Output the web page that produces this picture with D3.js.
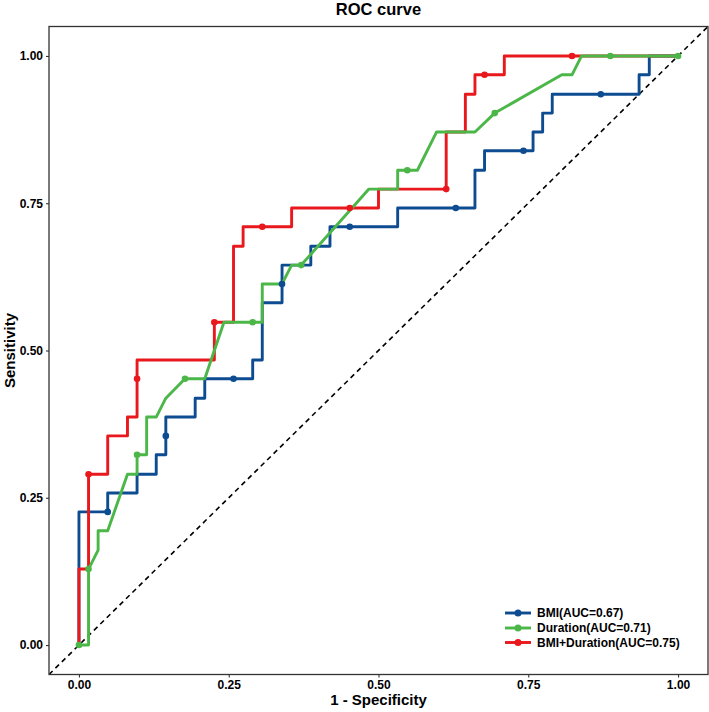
<!DOCTYPE html>
<html>
<head>
<meta charset="utf-8">
<script src="https://cdn.jsdelivr.net/npm/d3@7"></script>
<style>
  html, body { margin: 0; padding: 0; background: #fff; }
  text { font-family: "Liberation Sans", Arial, Helvetica, sans-serif; font-weight: bold; }
</style>
</head>
<body>
<svg id="chart" width="709" height="712"></svg>
<script>
// ---- data (1 - specificity, sensitivity) ----
const seriesNames = ["BMI(AUC=0.67)", "Duration(AUC=0.71)", "BMI+Duration(AUC=0.75)"];
const seriesColors = ["#0E4C92", "#4BB748", "#E8181D"];

const bmiFpr = [0,0,.048,.048,.097,.097,.129,.129,.145,.145,.194,.194,.210,.210,.290,.290,.306,.306,.339,.339,.387,.387,.419,.419,.532,.532,.661,.661,.677,.677,.758,.758,.774,.774,.790,.790,.935,.935,.952,.952,1];
const bmiTpr = [0,.226,.226,.258,.258,.290,.290,.323,.323,.387,.387,.419,.419,.452,.452,.484,.484,.581,.581,.645,.645,.677,.677,.710,.710,.742,.742,.806,.806,.839,.839,.871,.871,.903,.903,.935,.935,.968,.968,1,1];
const bmiDotFpr = [.048,.145,.258,.339,.452,.629,.742,.871];
const bmiDotTpr = [.226,.355,.452,.613,.710,.742,.839,.935];

const durFpr = [0,.016,.016,.032,.032,.048,.081,.097,.097,.113,.113,.129,.145,.177,.210,.242,.306,.306,.339,.355,.371,.484,.532,.532,.565,.597,.661,.694,.806,.823,.839,1];
const durTpr = [0,0,.129,.161,.194,.194,.290,.290,.323,.323,.387,.387,.419,.452,.452,.548,.548,.613,.613,.645,.645,.774,.774,.806,.806,.871,.871,.903,.968,.968,1,1];
const durDotFpr = [0,.016,.097,.177,.290,.371,.548,.694,.887,1];
const durDotTpr = [0,.129,.323,.452,.548,.645,.806,.903,1,1];

const combFpr = [0,0,.016,.016,.048,.048,.081,.081,.097,.097,.226,.226,.258,.258,.274,.274,.355,.355,.500,.500,.613,.613,.645,.645,.661,.661,.710,.710,1];
const combTpr = [0,.129,.129,.290,.290,.355,.355,.387,.387,.484,.484,.548,.548,.677,.677,.710,.710,.742,.742,.774,.774,.871,.871,.935,.935,.968,.968,1,1];
const combDotFpr = [.016,.097,.226,.306,.452,.613,.677,.823];
const combDotTpr = [.290,.452,.548,.710,.742,.774,.968,1];

const tickValues = [0, 0.25, 0.5, 0.75, 1];

// ---- build series (draw order: BMI, BMI+Duration, Duration) ----
const zip = (a, b) => a.map((v, i) => [v, b[i]]);
const series = [
  { name: seriesNames[0], color: seriesColors[0], line: zip(bmiFpr, bmiTpr), dots: zip(bmiDotFpr, bmiDotTpr) },
  { name: seriesNames[1], color: seriesColors[1], line: zip(durFpr, durTpr), dots: zip(durDotFpr, durDotTpr) },
  { name: seriesNames[2], color: seriesColors[2], line: zip(combFpr, combTpr), dots: zip(combDotFpr, combDotTpr) }
];
const drawOrder = [0, 2, 1];

const svg = d3.select("#chart");
const panel = { left: 49, right: 708, top: 26.5, bottom: 674.5 };

const x = d3.scaleLinear().domain([-0.05, 1.05]).range([panel.left, panel.right]);
const y = d3.scaleLinear().domain([-0.05, 1.05]).range([panel.bottom, panel.top]);

svg.append("defs").append("clipPath").attr("id", "clip")
  .append("rect").attr("x", panel.left).attr("y", panel.top)
  .attr("width", panel.right - panel.left).attr("height", panel.bottom - panel.top);

// diagonal reference
svg.append("line")
  .attr("clip-path", "url(#clip)")
  .attr("x1", x(-0.05)).attr("y1", y(-0.05))
  .attr("x2", x(1.05)).attr("y2", y(1.05))
  .attr("stroke", "#000").attr("stroke-width", 1.6)
  .attr("stroke-dasharray", "5,4");

const lineGen = d3.line().x(d => x(d[0])).y(d => y(d[1]));

const plot = svg.append("g").attr("clip-path", "url(#clip)");
drawOrder.forEach(i => {
  const s = series[i];
  plot.append("path").datum(s.line)
    .attr("d", lineGen).attr("fill", "none")
    .attr("stroke", s.color).attr("stroke-width", 2.9)
    .attr("stroke-linejoin", "round");
});
drawOrder.forEach(i => {
  const s = series[i];
  plot.selectAll(null).data(s.dots).enter().append("circle")
    .attr("cx", d => x(d[0])).attr("cy", d => y(d[1]))
    .attr("r", 3.3).attr("fill", s.color);
});

// panel border
svg.append("rect")
  .attr("x", panel.left).attr("y", panel.top)
  .attr("width", panel.right - panel.left).attr("height", panel.bottom - panel.top)
  .attr("fill", "none").attr("stroke", "#333").attr("stroke-width", 1.3);

// axes
const fmt = d3.format(".2f");
const xAxis = svg.append("g").attr("transform", `translate(0,${panel.bottom})`)
  .call(d3.axisBottom(x).tickValues(tickValues).tickFormat(fmt).tickSize(3).tickPadding(3));
const yAxis = svg.append("g").attr("transform", `translate(${panel.left},0)`)
  .call(d3.axisLeft(y).tickValues(tickValues).tickFormat(fmt).tickSize(3).tickPadding(3));
[xAxis, yAxis].forEach(g => {
  g.select(".domain").remove();
  g.selectAll(".tick line").attr("stroke", "#333").attr("stroke-width", 1.1);
  g.selectAll(".tick text").attr("fill", "#000")
    .style("font-size", "12px").style("font-weight", "bold")
    .style("font-family", '"Liberation Sans", Arial, sans-serif');
});

// titles
const cx = (panel.left + panel.right) / 2;
svg.append("text").attr("x", cx).attr("y", 15).attr("text-anchor", "middle")
  .style("font-size", "16.5px").text("ROC curve");
svg.append("text").attr("x", cx).attr("y", 705).attr("text-anchor", "middle")
  .style("font-size", "15px").text("1 - Specificity");
svg.append("text")
  .attr("transform", `translate(15,${(panel.top + panel.bottom) / 2}) rotate(-90)`)
  .attr("text-anchor", "middle")
  .style("font-size", "15px").text("Sensitivity");

// legend
const legY = [613, 628, 642.5];
const leg = svg.append("g");
series.forEach((s, i) => {
  const g = leg.append("g").attr("transform", `translate(0,${legY[i]})`);
  g.append("line").attr("x1", 505).attr("x2", 531).attr("y1", 0).attr("y2", 0)
    .attr("stroke", s.color).attr("stroke-width", 2.9);
  g.append("circle").attr("cx", 518).attr("cy", 0).attr("r", 3.5).attr("fill", s.color);
  g.append("text").attr("x", 537).attr("y", 0).attr("dy", "0.36em")
    .style("font-size", "12px").attr("fill", "#000").text(s.name);
});
</script>
</body>
</html>
